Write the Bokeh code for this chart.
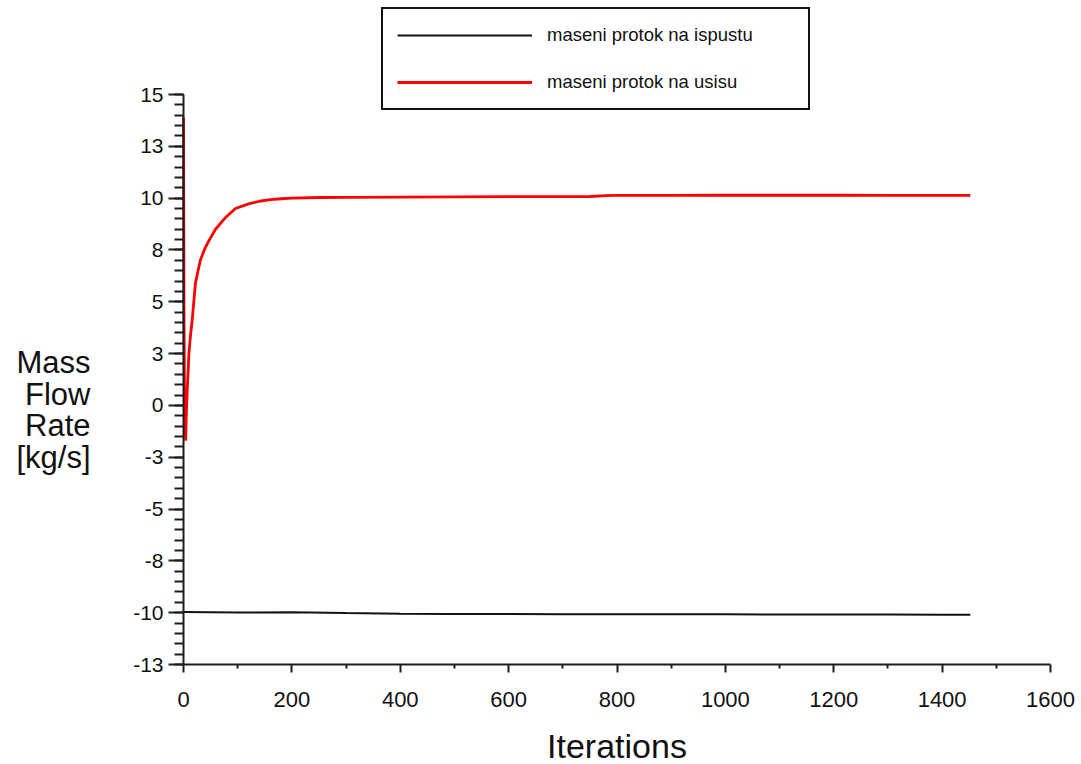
from bokeh.plotting import figure
from bokeh.models import Range1d, FixedTicker, Legend, LegendItem, Label
from bokeh.embed import file_html
from bokeh.resources import INLINE

# ---- data ----
inlet_iter = [0, 1, 2, 3, 4, 5, 7, 10, 13, 16, 22, 31, 40, 47, 59, 77, 96, 120, 140,
              160, 180, 200, 250, 300, 400, 500, 600, 700, 750, 780, 800, 900, 1000,
              1100, 1200, 1300, 1400, 1452]
inlet_flow = [13.9, 4.0, -0.4, -1.0, -1.7, -0.6, 0.8, 2.5, 3.4, 4.1, 5.9, 7.0, 7.6, 7.95,
              8.5, 9.05, 9.5, 9.72, 9.85, 9.93, 9.97, 10.0, 10.03, 10.04, 10.05, 10.06,
              10.07, 10.07, 10.08, 10.12, 10.13, 10.13, 10.14, 10.14, 10.14, 10.13,
              10.13, 10.13]

outlet_iter = [0, 100, 200, 300, 400, 500, 600, 700, 800, 900, 1000, 1100, 1200, 1300,
               1400, 1452]
outlet_flow = [-9.97, -9.99, -9.98, -10.02, -10.05, -10.06, -10.06, -10.07, -10.08,
               -10.08, -10.08, -10.09, -10.09, -10.09, -10.10, -10.10]

series_names = ["maseni protok na ispustu", "maseni protok na usisu"]

x_tick_values = [0, 200, 400, 600, 800, 1000, 1200, 1400, 1600]
x_tick_labels = ["0", "200", "400", "600", "800", "1000", "1200", "1400", "1600"]
y_tick_values = [-12.5, -10, -7.5, -5, -2.5, 0, 2.5, 5, 7.5, 10, 12.5, 15]
y_tick_labels = ["-13", "-10", "-8", "-5", "-3", "0", "3", "5", "8", "10", "13", "15"]

x_title = "Iterations"
y_title_lines = ["Mass", "Flow", "Rate", "[kg/s]"]

# axis extents (data) and the canvas geometry of the plotting area
X_MIN, X_MAX = 0, 1600
Y_MIN, Y_MAX = -12.5, 15
W, H = 1081, 764
AX_LEFT, AX_RIGHT, AX_TOP, AX_BOTTOM = 183, 1050, 94, 664   # pixels

sx = (X_MAX - X_MIN) / (AX_RIGHT - AX_LEFT)
sy = (Y_MAX - Y_MIN) / (AX_BOTTOM - AX_TOP)
x_range = Range1d(X_MIN - AX_LEFT * sx, X_MAX + (W - AX_RIGHT) * sx)
y_range = Range1d(Y_MIN - (H - AX_BOTTOM) * sy, Y_MAX + AX_TOP * sy)

FONT = "Liberation Sans"
AXIS_COLOR = "#1e1e1e"
TEXT_COLOR = "#111111"

p = figure(width=W, height=H, x_range=x_range, y_range=y_range,
           output_backend="svg", toolbar_location=None,
           min_border=0, min_border_left=0, min_border_right=0,
           min_border_top=0, min_border_bottom=0)
p.outline_line_color = None
p.grid.visible = False
p.background_fill_color = "white"
p.border_fill_color = "white"

r_out = p.line(outlet_iter, outlet_flow, line_color="#111111", line_width=2)
r_in = p.line(inlet_iter, inlet_flow, line_color="#ff0000", line_width=2.8)

# x axis (pinned at the bottom of the value range)
xa = p.xaxis[0]
xa.fixed_location = Y_MIN
xa.bounds = (X_MIN, X_MAX)
xa.ticker = FixedTicker(ticks=x_tick_values,
                        minor_ticks=[v + 100 for v in x_tick_values[:-1]])
xa.major_label_overrides = {v: s for v, s in zip(x_tick_values, x_tick_labels)}
xa.axis_label = x_title
xa.axis_label_text_font = FONT
xa.axis_label_text_font_size = "34px"
xa.axis_label_text_font_style = "normal"
xa.axis_label_text_color = TEXT_COLOR
xa.axis_label_standoff = 17
xa.major_label_text_font = FONT
xa.major_label_text_font_size = "22px"
xa.major_label_text_color = TEXT_COLOR
xa.major_label_standoff = 19
xa.major_tick_in = 0
xa.major_tick_out = 8
xa.minor_tick_in = 0
xa.minor_tick_out = 4

# y axis (pinned at iteration 0)
ya = p.yaxis[0]
ya.fixed_location = X_MIN
ya.bounds = (Y_MIN, Y_MAX)
ya.ticker = FixedTicker(ticks=y_tick_values,
                        minor_ticks=[Y_MIN + 0.5 * k for k in range(56)])
ya.major_label_overrides = {v: s for v, s in zip(y_tick_values, y_tick_labels)}
ya.major_label_text_font = FONT
ya.major_label_text_font_size = "21px"
ya.major_label_text_color = TEXT_COLOR
ya.major_label_standoff = 5
ya.major_tick_in = 0
ya.major_tick_out = 15
ya.minor_tick_in = 0
ya.minor_tick_out = 9

for ax in (xa, ya):
    ax.axis_line_color = AXIS_COLOR
    ax.axis_line_width = 2
    ax.major_tick_line_color = AXIS_COLOR
    ax.major_tick_line_width = 2
    ax.minor_tick_line_color = AXIS_COLOR
    ax.minor_tick_line_width = 2

# y title as stacked, right-aligned horizontal text
for i, txt in enumerate(y_title_lines):
    p.add_layout(Label(x=90, y=H - 362 - 31.5 * i, x_units="screen", y_units="screen",
                       text=txt, text_align="right", text_baseline="middle",
                       text_font=FONT, text_font_size="31px", text_color=TEXT_COLOR))

legend = Legend(items=[LegendItem(label=series_names[0], renderers=[r_out]),
                       LegendItem(label=series_names[1], renderers=[r_in])],
                location=(381, H - 110), orientation="vertical")
legend.label_text_font = FONT
legend.label_text_font_size = "18.5px"
legend.label_text_color = TEXT_COLOR
legend.glyph_width = 135
legend.glyph_height = 24
legend.label_standoff = 15
legend.label_width = 247
legend.label_height = 20
legend.spacing = 23
legend.padding = 14
legend.margin = 0
legend.border_line_color = "#111111"
legend.border_line_width = 2
legend.border_line_alpha = 1.0
legend.background_fill_color = "white"
legend.background_fill_alpha = 1.0
p.add_layout(legend)

open("out.html", "w").write(file_html(p, INLINE))
